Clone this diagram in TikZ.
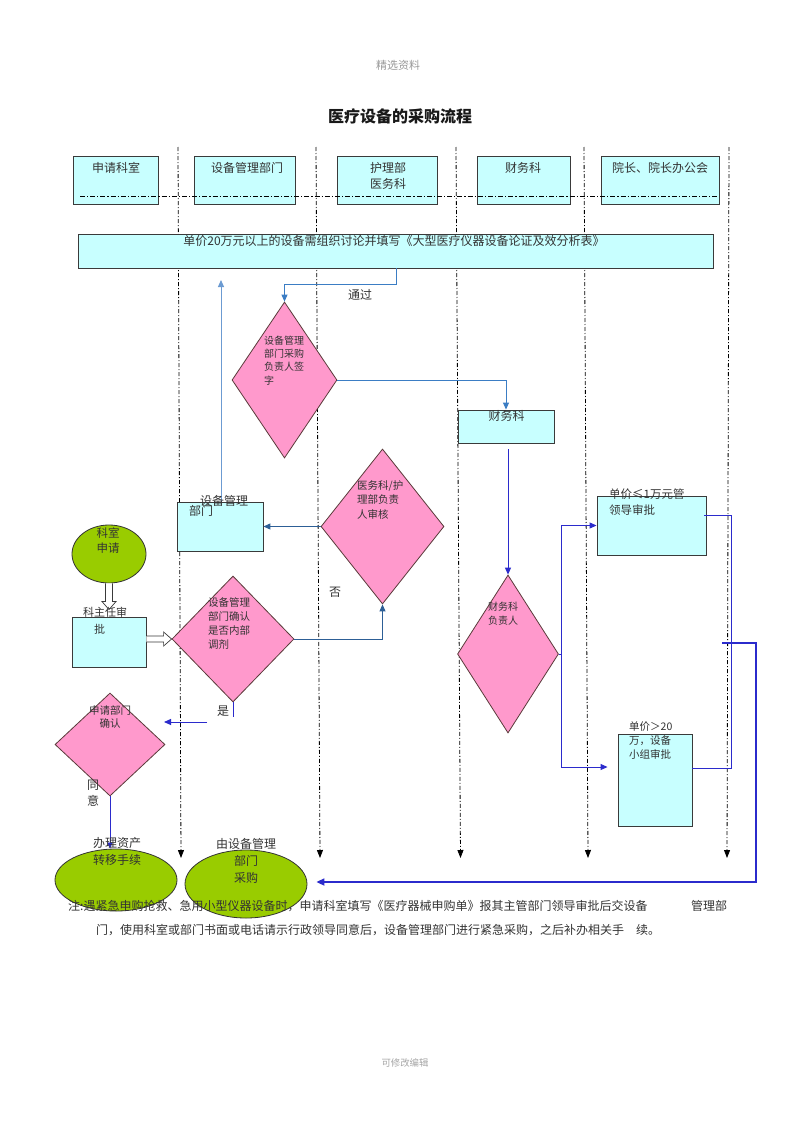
\documentclass[tikz,border=0pt]{standalone}
\usepackage{fontspec}
\setmainfont{Noto Sans CJK SC}
\usetikzlibrary{arrows.meta,shapes.geometric,calc}
\definecolor{boxfill}{HTML}{C8FFFF}
\definecolor{boxdraw}{HTML}{3A3A3A}
\definecolor{pinkfill}{HTML}{FF99CC}
\definecolor{pinkdraw}{HTML}{5A3A3A}
\definecolor{greenfill}{HTML}{99CC00}
\definecolor{greendraw}{HTML}{333333}
\definecolor{blueA}{HTML}{3B7DC4}
\definecolor{blueL}{HTML}{6C9BD2}
\definecolor{blueD}{HTML}{2D5F96}
\definecolor{blueP}{HTML}{2B2BCC}
\definecolor{txt}{HTML}{333333}
\begin{document}
\begin{tikzpicture}[x=1pt,y=-1pt,
  box/.style={draw=boxdraw,fill=boxfill,line width=0.9pt,inner sep=0,minimum width=#1},
  dia/.style={draw=pinkdraw,fill=pinkfill,line width=0.8pt,diamond,inner sep=0},
  ell/.style={draw=greendraw,fill=greenfill,line width=0.8pt,ellipse,inner sep=0},
  lane/.style={line width=0.8pt,dash pattern=on 4pt off 2pt on 1pt off 2pt,-{Triangle[length=8pt,width=6pt]}},
  hdash/.style={line width=0.9pt,dash pattern=on 5pt off 2pt on 1.2pt off 2pt},
  tip/.style={-{Triangle[length=7pt,width=6pt]}},
  arrA/.style={draw=blueA,line width=1pt,tip},
  arrL/.style={draw=blueL,line width=1pt,tip},
  arrD/.style={draw=blueD,line width=1pt,tip},
  arrP/.style={draw=blueP,line width=1pt,tip},
  lineP/.style={draw=blueP,line width=1pt},
  hollow/.style={draw=boxdraw,line width=0.7pt,fill=white,line join=miter},
  t/.style={inner sep=0,text=txt,align=left,anchor=north west},
  tc/.style={inner sep=0,text=txt,align=center,anchor=north},
  f10/.style={font=\fontsize{10}{14}\selectfont},
  f105/.style={font=\fontsize{10.5}{14}\selectfont},
  f11/.style={font=\fontsize{11.5}{16}\selectfont},
  f12/.style={font=\fontsize{12}{16}\selectfont},
]
\fill[white] (0,0) rectangle (800,1132);
\useasboundingbox (0,0) rectangle (800,1132);

% page header/footer and title
\node[inner sep=0,text=black!40,font=\fontsize{11}{13}\selectfont] (hdr) at (398,65) {精选资料};
\node[inner sep=0,text=black!35,font=\fontsize{9.4}{11}\selectfont] (ftr) at (405,1063) {可修改编辑};
\node[inner sep=0,text=black!90,font=\fontsize{16}{18}\selectfont\bfseries] (title) at (400,116) {医疗设备的采购流程};

% lanes
\coordinate (L1t) at (178,147); \coordinate (L1b) at (181,858);
\coordinate (L2t) at (316,147); \coordinate (L2b) at (320,858);
\coordinate (L3t) at (456,147); \coordinate (L3b) at (460.5,858);
\coordinate (L4t) at (584,147); \coordinate (L4b) at (588,858);
\coordinate (L5t) at (729,147); \coordinate (L5b) at (727,858);
\draw[lane] (L1t) -- (L1b);
\draw[lane] (L2t) -- (L2b);
\draw[lane] (L3t) -- (L3b);
\draw[lane] (L4t) -- (L4b);
\draw[lane] (L5t) -- (L5b);

% header boxes
\node[box=85,minimum height=48] (h1) at (115.5,180) {};
\node[box=101,minimum height=48] (h2) at (244.5,180) {};
\node[box=100,minimum height=48] (h3) at (387,180) {};
\node[box=93,minimum height=48] (h4) at (523.5,180) {};
\node[box=118,minimum height=48] (h5) at (660,180) {};
\coordinate (hd1) at (80,196); \coordinate (hd2) at (717,196);
\draw[hdash] (hd1) -- (hd2);
\node[tc,f12] (h1t) at (116,162.5) {申请科室};
\node[tc,f12] (h2t) at (247,162.5) {设备管理部门};
\node[tc,f12] (h3t) at (388,162.5) {护理部\\医务科};
\node[tc,f12] (h4t) at (523,162.5) {财务科};
\node[tc,f12] (h5t) at (660,162.5) {院长、院长办公会};

% wide box
\node[box=635,minimum height=34] (wb) at (395.5,251) {};
\node[tc,f12] (wbt) at (394,235.5) {单价20万元以上的设备需组织讨论并填写《大型医疗仪器设备论证及效分析表》};

% shapes
\node[dia,minimum width=105,minimum height=156] (d1) at (284.5,380) {};
\node[box=96,minimum height=33] (cw) at (506,426.5) {};
\node[box=86,minimum height=49] (sb) at (220,526.5) {};
\node[dia,minimum width=123,minimum height=155] (dm) at (382.5,526.5) {};
\node[dia,minimum width=101,minimum height=158] (dc) at (508,654) {};
\node[box=109,minimum height=59] (b1) at (651.5,525.5) {};
\node[box=74,minimum height=92] (b2) at (655,780) {};
\node[ell,minimum width=74,minimum height=58] (e1) at (109,554) {};
\node[box=74,minimum height=50] (kz) at (109,642) {};
\node[dia,minimum width=122,minimum height=126] (dq) at (233,639) {};
\node[dia,minimum width=110,minimum height=103] (da) at (110,744.5) {};
\node[ell,minimum width=122,minimum height=68] (e3) at (246,884) {};
\node[ell,minimum width=122,minimum height=62] (e2) at (116,880) {};

% connectors
\coordinate (c1) at (396,268);
\draw[arrA] (wb.south -| c1) -- ++(0,16) -| (d1.north);
\coordinate (u1) at (221,280);
\draw[arrL] (sb.north -| u1) -- (u1);
\draw[arrA] (d1.east) -| (cw.north);
\draw[arrP] ($(cw.south -| dc.north)+(0,6)$) -- (dc.north);
\draw[arrD] (dm.west) -- (sb.east);
\draw[arrD] (dq.east) -| (dm.south);
% hollow block arrows
\coordinate (vs) at (e1.south);
\coordinate (vt) at ($(kz.north)+(0,-7)$);
\draw[hollow] ($(vs)+(-3.5,0)$) -- ($(vt)+(-3.5,-8)$) -- ($(vt)+(-7,-8)$) -- (vt) -- ($(vt)+(7,-8)$) -- ($(vt)+(3.5,-8)$) -- ($(vs)+(3.5,0)$);
\coordinate (hs) at ($(kz.east)+(0,-3)$);
\coordinate (ht) at (dq.west);
\draw[hollow] ($(hs)+(0,-3)$) -- ($(ht)+(-8,-3)$) -- ($(ht)+(-8,-7)$) -- (ht) -- ($(ht)+(-8,7)$) -- ($(ht)+(-8,3)$) -- ($(hs)+(0,3)$);
\draw[lineP] (dq.south) -- ++(0,15);
\coordinate (ya) at (207,722); \coordinate (yb) at (164,722);
\draw[arrP] (ya) -- (yb);
\draw[draw=blueP,line width=0.7pt,-{Triangle[length=6pt,width=5pt]}] (da.south) -- (da.south |- e2.north);
\draw[arrP] (dc.east) -- ++(3,0) |- (b1.west);
\draw[arrP] (dc.east) -- ++(3,0) |- ($(b2.west)+(-10,-13)$);
\draw[lineP] ($(b1.east)+(-2,-10)$) -- ++(27,0) |- ($(b2.east)+(0,-12)$);
\coordinate (r1) at (722,643);
\draw[draw=blueP,line width=1.6pt,-{Triangle[length=8pt,width=7pt]}] (r1) -- ++(34,0) |- ($(e3.east)+(9,-2)$);

% texts
\node[tc,f12] (tg) at (360,289.6) {通过};
\node[t,font=\fontsize{10}{13.4}\selectfont] (d1t) at (264,335.5) {设备管理\\部门采购\\负责人签\\字};
\node[tc,f12] (cwt) at (506.5,410.3) {财务科};
\node[t,font=\fontsize{10.5}{14.5}\selectfont] (dmt) at (357,480.3) {医务科/护\\理部负责\\人审核};
\node[t,f12] (sbt1) at (200,495.3) {设备管理};
\node[t,f12] (sbt2) at (189,505.6) {部门};
\node[t,f11] (b1t) at (609,488.8) {单价≤1万元管\\领导审批};
\node[tc,f10] (dct) at (503,601.5) {财务科\\负责人};
\node[t,f105] (b2t) at (629,721.3) {单价＞20\\万，设备\\小组审批};
\node[tc,font=\fontsize{11.5}{15}\selectfont] (e1t) at (108,527.8) {科室\\申请};
\node[t,font=\fontsize{11}{14}\selectfont] (kzt1) at (83,607) {科主任审};
\node[t,font=\fontsize{11}{14}\selectfont] (kzt2) at (94,624) {批};
\node[t,f105] (dqt) at (208,597.3) {设备管理\\部门确认\\是否内部\\调剂};
\node[tc,f12] (no) at (335,586.6) {否};
\node[tc,f12] (yes) at (223,705.6) {是};
\node[tc,font=\fontsize{10.5}{13}\selectfont] (dat) at (110,705.3) {申请部门\\确认};
\node[tc,f12] (agree) at (93,779.6) {同\\意};
\node[tc,font=\fontsize{12}{17}\selectfont] (e2t) at (117,837.6) {办理资产\\转移手续};
\node[tc,font=\fontsize{12}{17}\selectfont] (e3t) at (246,838.6) {由设备管理\\部门\\采购};

% note
\node[inner sep=0,text=txt,anchor=north west,text width=659pt,font=\fontsize{12}{16}\selectfont] (note1) at (68,900.5) {注:遇紧急申购抢救、急用小型仪器设备时，申请科室填写《医疗器械申购单》报其主管部门领导审批后交设备\hfill 管理部};
\node[inner sep=0,text=txt,anchor=north west,font=\fontsize{12}{16}\selectfont] (note2) at (96,924.5) {门，使用科室或部门书面或电话请示行政领导同意后，设备管理部门进行紧急采购，之后补办相关手\hspace{12pt}续。};
\end{tikzpicture}
\end{document}
